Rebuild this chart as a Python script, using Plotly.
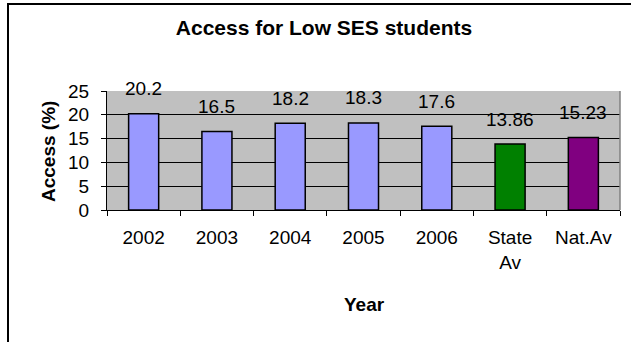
import plotly.graph_objects as go

# Access for low-SES students, by year plus state and national averages
categories = ["2002", "2003", "2004", "2005", "2006", "State<br>Av", "Nat.Av"]
access_pct = [20.2, 16.5, 18.2, 18.3, 17.6, 13.86, 15.23]
bar_colors = ["#9999FF", "#9999FF", "#9999FF", "#9999FF", "#9999FF", "#008000", "#800080"]
y_ticks = [0, 5, 10, 15, 20, 25]

FONT = "Liberation Sans, Arial, sans-serif"
W, H = 631, 342
L, R, T, B = 107, 11, 91, 132

fig = go.Figure()
fig.add_trace(go.Bar(
    x=categories,
    y=access_pct,
    marker=dict(color=bar_colors, line=dict(color="black", width=1.5)),
    hoverinfo="x+y",
))

# value labels sitting above each bar (x given as category index)
for i, val in enumerate(access_pct):
    fig.add_annotation(
        x=i, y=val, text=f"{val:g}", showarrow=False,
        xref="x", yref="y", yanchor="middle", yshift=25,
        font=dict(family=FONT, size=19, color="black"),
    )

plot_w = W - L - R
plot_h = H - T - B

def px_x(x):
    return (x - L) / plot_w

def px_y(y):
    return (H - B - y) / plot_h

# axis titles
fig.add_annotation(
    x=px_x(364), y=px_y(304), xref="paper", yref="paper", text="<b>Year</b>",
    showarrow=False, xanchor="center", yanchor="middle",
    font=dict(family=FONT, size=19, color="black"),
)
fig.add_annotation(
    x=px_x(48), y=px_y(152), xref="paper", yref="paper", text="<b>Access (%)</b>",
    showarrow=False, textangle=-90, xanchor="center", yanchor="middle",
    font=dict(family=FONT, size=19, color="black"),
)

# outer chart frame
fig.add_shape(
    type="rect", xref="paper", yref="paper",
    x0=px_x(8), x1=px_x(660), y0=px_y(370), y1=px_y(4),
    line=dict(color="black", width=2), layer="above",
)
# plot-area right edge
fig.add_shape(
    type="line", xref="paper", yref="paper",
    x0=1, x1=1, y0=0, y1=1, line=dict(color="#808080", width=1.5),
)

fig.update_layout(
    width=W, height=H,
    margin=dict(l=L, r=R, t=T, b=B),
    paper_bgcolor="white",
    plot_bgcolor="#C0C0C0",
    showlegend=False,
    bargap=0.59,
    title=dict(
        text="<b>Access for Low SES students</b>",
        x=324 / W, y=1 - 28 / H, xanchor="center", yanchor="middle",
        xref="container", yref="container",
        font=dict(family=FONT, size=21, color="black"),
    ),
    font=dict(family=FONT, size=19, color="black"),
)
fig.update_xaxes(
    type="category",
    range=[-0.5, len(categories) - 0.5],
    showline=True, linecolor="black", linewidth=1,
    ticks="outside", tickson="boundaries", ticklen=5, tickcolor="black",
    tickfont=dict(family=FONT, size=19, color="black"),
    tickangle=0,
    ticklabelstandoff=10,
    showgrid=False,
)
fig.update_yaxes(
    range=[0, 25], tickvals=y_ticks,
    showline=True, linecolor="black", linewidth=1,
    ticks="outside", ticklen=5, tickcolor="black",
    tickfont=dict(family=FONT, size=19, color="black"),
    ticklabelstandoff=8,
    showgrid=True, gridcolor="black", gridwidth=1,
    zeroline=False,
)

fig.write_html("out.html")
